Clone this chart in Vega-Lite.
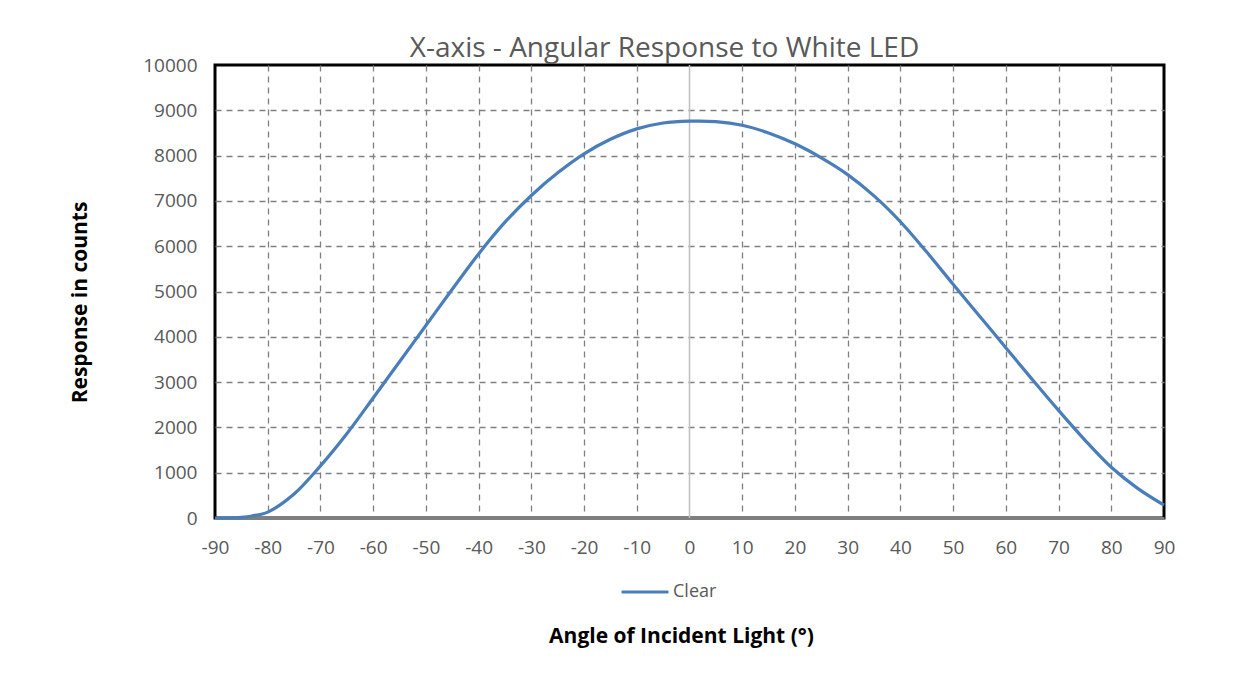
{
  "$schema": "https://vega.github.io/schema/vega-lite/v6.json",
  "autosize": "none",
  "width": 949,
  "height": 453,
  "padding": {"left": 215, "top": 65, "right": 86, "bottom": 159},
  "background": "white",
  "config": {
    "view": {"stroke": "black", "strokeWidth": 3},
    "font": "Open Sans"
  },
  "title": {
    "text": "X-axis - Angular Response to White LED",
    "fontSize": 28,
    "fontWeight": "normal",
    "color": "#595959",
    "font": "Open Sans",
    "anchor": "middle",
    "dx": -25,
    "offset": -7
  },
  "datasets": {
    "curve": [
      {"angle": -90, "counts": 0, "series": "Clear"},
      {"angle": -87, "counts": 0, "series": "Clear"},
      {"angle": -85, "counts": 15, "series": "Clear"},
      {"angle": -83, "counts": 45, "series": "Clear"},
      {"angle": -80, "counts": 130, "series": "Clear"},
      {"angle": -75, "counts": 530, "series": "Clear"},
      {"angle": -70, "counts": 1150, "series": "Clear"},
      {"angle": -65, "counts": 1860, "series": "Clear"},
      {"angle": -60, "counts": 2650, "series": "Clear"},
      {"angle": -55, "counts": 3450, "series": "Clear"},
      {"angle": -50, "counts": 4250, "series": "Clear"},
      {"angle": -45, "counts": 5050, "series": "Clear"},
      {"angle": -40, "counts": 5830, "series": "Clear"},
      {"angle": -35, "counts": 6530, "series": "Clear"},
      {"angle": -30, "counts": 7120, "series": "Clear"},
      {"angle": -25, "counts": 7620, "series": "Clear"},
      {"angle": -20, "counts": 8040, "series": "Clear"},
      {"angle": -15, "counts": 8360, "series": "Clear"},
      {"angle": -10, "counts": 8590, "series": "Clear"},
      {"angle": -5, "counts": 8720, "series": "Clear"},
      {"angle": 0, "counts": 8760, "series": "Clear"},
      {"angle": 5, "counts": 8750, "series": "Clear"},
      {"angle": 10, "counts": 8670, "series": "Clear"},
      {"angle": 15, "counts": 8500, "series": "Clear"},
      {"angle": 20, "counts": 8260, "series": "Clear"},
      {"angle": 25, "counts": 7950, "series": "Clear"},
      {"angle": 30, "counts": 7580, "series": "Clear"},
      {"angle": 35, "counts": 7110, "series": "Clear"},
      {"angle": 40, "counts": 6540, "series": "Clear"},
      {"angle": 45, "counts": 5870, "series": "Clear"},
      {"angle": 50, "counts": 5160, "series": "Clear"},
      {"angle": 55, "counts": 4460, "series": "Clear"},
      {"angle": 60, "counts": 3760, "series": "Clear"},
      {"angle": 65, "counts": 3060, "series": "Clear"},
      {"angle": 70, "counts": 2375, "series": "Clear"},
      {"angle": 75, "counts": 1720, "series": "Clear"},
      {"angle": 80, "counts": 1120, "series": "Clear"},
      {"angle": 85, "counts": 655, "series": "Clear"},
      {"angle": 90, "counts": 285, "series": "Clear"}
    ],
    "zero": [{"angle": 0}]
  },
  "layer": [
    {
      "data": {"name": "zero"},
      "mark": {"type": "rule", "color": "#bfbfbf", "strokeWidth": 1.5},
      "encoding": {
        "x": {"field": "angle", "type": "quantitative"}
      }
    },
    {
      "data": {"name": "curve"},
      "mark": {"type": "line", "strokeWidth": 3.2, "interpolate": "catmull-rom"},
      "encoding": {
        "x": {
          "field": "angle", "type": "quantitative",
          "scale": {"domain": [-90, 90], "nice": false, "zero": false},
          "axis": {
            "orient": "bottom",
            "values": [-90, -80, -70, -60, -50, -40, -30, -20, -10, 0, 10, 20, 30, 40, 50, 60, 70, 80, 90],
            "labelExpr": "'' + datum.value",
            "title": "Angle of Incident Light (°)",
            "titleFont": "Open Sans", "titleFontSize": 21, "titleFontWeight": "bold", "titleColor": "black",
            "titleX": 466, "titleY": 118, "titleBaseline": "middle", "titleAlign": "center",
            "labelFont": "Open Sans", "labelFontSize": 19, "labelColor": "#595959", "labelPadding": 20,
            "labelFlush": false,
            "ticks": false,
            "domainColor": "#7f7f7f", "domainWidth": 3,
            "grid": true, "gridColor": "#808080", "gridDash": [6, 5], "gridWidth": 1.3,
            "gridOpacity": {"condition": {"test": "datum.value == -90 || datum.value == 90 || datum.value == 0", "value": 0}, "value": 1}
          }
        },
        "y": {
          "field": "counts", "type": "quantitative",
          "scale": {"domain": [0, 10000], "nice": false},
          "axis": {
            "values": [0, 1000, 2000, 3000, 4000, 5000, 6000, 7000, 8000, 9000, 10000],
            "labelExpr": "'' + datum.value",
            "title": "Response in counts",
            "titleFont": "Open Sans", "titleFontSize": 21, "titleFontWeight": "bold", "titleColor": "black",
            "titleX": -135, "titleY": 237, "titleAngle": -90, "titleBaseline": "middle", "titleAlign": "center",
            "labelFont": "Open Sans", "labelFontSize": 19, "labelColor": "#595959", "labelPadding": 18,
            "labelFlush": false,
            "ticks": false,
            "domain": false,
            "grid": true, "gridColor": "#808080", "gridDash": [6, 5], "gridWidth": 1.3,
            "gridOpacity": {"condition": {"test": "datum.value == 0 || datum.value == 10000", "value": 0}, "value": 1}
          }
        },
        "color": {
          "field": "series", "type": "nominal",
          "scale": {"range": ["#4a7ebb"]},
          "legend": {
            "orient": "none", "legendX": 405, "legendY": 502,
            "title": null, "symbolType": "stroke", "symbolSize": 2200, "symbolStrokeWidth": 3,
            "labelFont": "Open Sans", "labelFontSize": 18, "labelColor": "#595959", "labelOffset": 3
          }
        }
      }
    }
  ]
}
